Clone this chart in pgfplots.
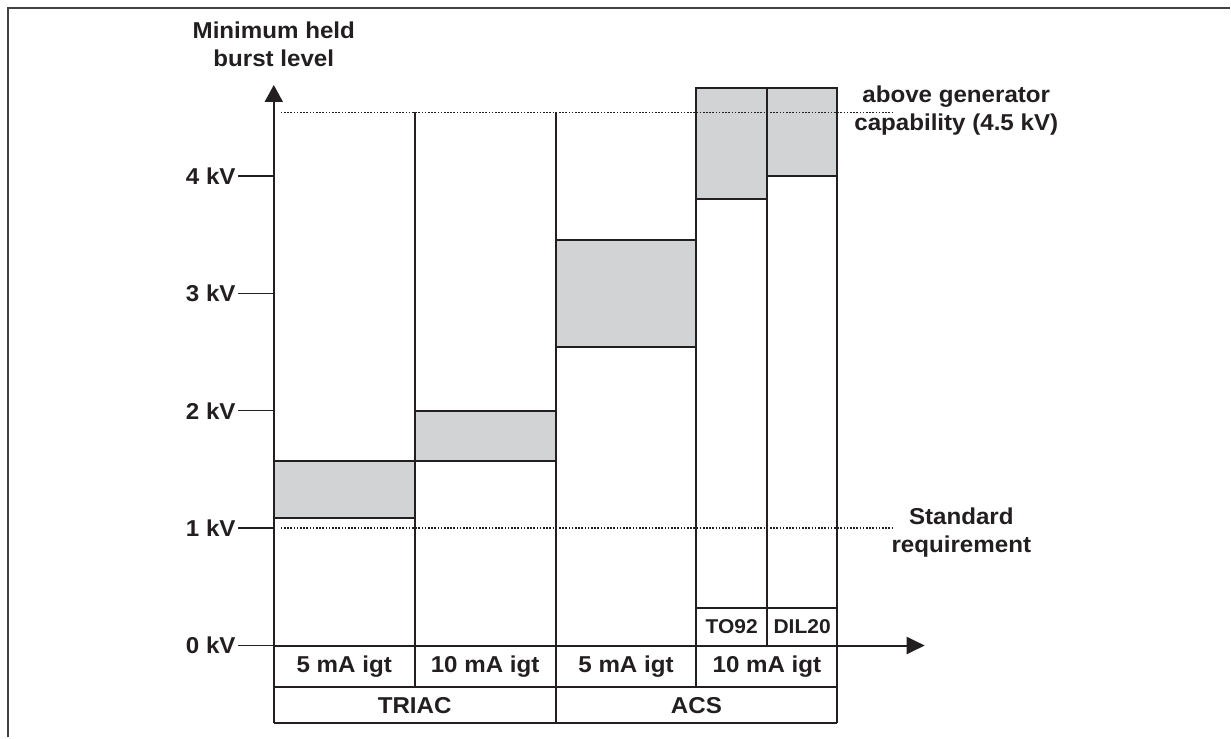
\documentclass[border=0pt]{standalone}
\usepackage{fontspec}
\setmainfont{Liberation Sans}[FakeStretch=1.05]
\usepackage{pgfplots}
\pgfplotsset{compat=1.18}
\usetikzlibrary{arrows.meta}
\definecolor{boxgray}{HTML}{D1D3D4}
\definecolor{ink}{HTML}{231F20}
\newcommand{\lblfont}{\fontsize{23}{28}\selectfont\bfseries}
\newcommand{\pkgfont}{\fontsize{20}{24}\selectfont\bfseries}

\begin{document}
\begin{tikzpicture}
\begin{axis}[
    x=141pt, y=117.5pt,
    xmin=0, xmax=4.62,
    ymin=-0.664, ymax=4.774,
    axis x line=none,
    axis y line=left,
    y axis line style={line width=2pt, ink, -{Triangle[length=17pt,width=18pt]}},
    ytick={0,1,2,3,4},
    yticklabels={0 kV,1 kV,2 kV,3 kV,4 kV},
    yticklabel style={font=\lblfont, text=ink, inner sep=2pt},
    tick align=outside,
    major tick length=36pt,
    ytick style={line width=1.4pt, ink},
    clip=false,
]
% page area
\path (axis cs:-1.9433,5.498) rectangle (axis cs:6.787,-0.783);
% frame (left and top only)
\draw[line width=2pt, ink!85] (axis cs:-1.890,-0.783) -- (axis cs:-1.890,5.427) -- (axis cs:6.787,5.427);

% gray ranges
\addplot[fill=boxgray, draw=ink, line width=2pt] coordinates {(0,1.09) (1,1.09) (1,1.57) (0,1.57) (0,1.09)};
\addplot[fill=boxgray, draw=ink, line width=2pt] coordinates {(1,1.57) (2,1.57) (2,2.0) (1,2.0) (1,1.57)};
\addplot[fill=boxgray, draw=ink, line width=2pt] coordinates {(2,2.545) (3,2.545) (3,3.45) (2,3.45) (2,2.545)};
\addplot[fill=boxgray, draw=ink, line width=2pt] coordinates {(3,3.8) (3.5,3.8) (3.5,4.75) (3,4.75) (3,3.8)};
\addplot[fill=boxgray, draw=ink, line width=2pt] coordinates {(3.5,4.0) (4,4.0) (4,4.75) (3.5,4.75) (3.5,4.0)};

% column lines
\addplot[ink, line width=2pt] coordinates {(1,-0.357) (1,4.54)};
\addplot[ink, line width=2pt] coordinates {(2,-0.664) (2,4.54)};
\addplot[ink, line width=2pt] coordinates {(3,-0.357) (3,4.75)};
\addplot[ink, line width=2pt] coordinates {(3.5,0) (3.5,4.75)};
\addplot[ink, line width=2pt] coordinates {(4,-0.664) (4,4.75)};
% table rows
\addplot[ink, line width=2pt] coordinates {(0,-0.357) (4,-0.357)};
\addplot[ink, line width=2pt] coordinates {(0,-0.664) (4,-0.664)};
\addplot[ink, line width=2pt] coordinates {(3,0.323) (4,0.323)};
% x axis with arrow
\addplot[ink, line width=2pt, -{Triangle[length=18pt,width=17pt]}] coordinates {(0,0) (4.62,0)};

% reference levels
\addplot[ink, line width=1.6pt, dash pattern=on 1.6pt off 1.6pt] coordinates {(0.05,1) (4.40,1)};
\addplot[ink, line width=1.6pt, dash pattern=on 1.6pt off 1.6pt] coordinates {(0.05,4.54) (4.40,4.54)};

% labels
\node[font=\lblfont, text=ink, align=center] at (axis cs:0,5.12) {Minimum held\\burst level};
\node[font=\lblfont, text=ink, align=center] at (axis cs:4.844,4.553) {above generator\\capability (4.5 kV)};
\node[font=\lblfont, text=ink, align=center] at (axis cs:4.88,0.962) {Standard\\requirement};
\node[font=\lblfont, text=ink] at (axis cs:0.5,-0.178) {5 mA igt};
\node[font=\lblfont, text=ink] at (axis cs:1.5,-0.178) {10 mA igt};
\node[font=\lblfont, text=ink] at (axis cs:2.5,-0.178) {5 mA igt};
\node[font=\lblfont, text=ink] at (axis cs:3.5,-0.178) {10 mA igt};
\node[font=\lblfont, text=ink] at (axis cs:1,-0.51) {TRIAC};
\node[font=\lblfont, text=ink] at (axis cs:3,-0.51) {ACS};
\node[font=\pkgfont, text=ink] at (axis cs:3.25,0.161) {TO92};
\node[font=\pkgfont, text=ink] at (axis cs:3.75,0.161) {DIL20};
\end{axis}
\end{tikzpicture}
\end{document}
